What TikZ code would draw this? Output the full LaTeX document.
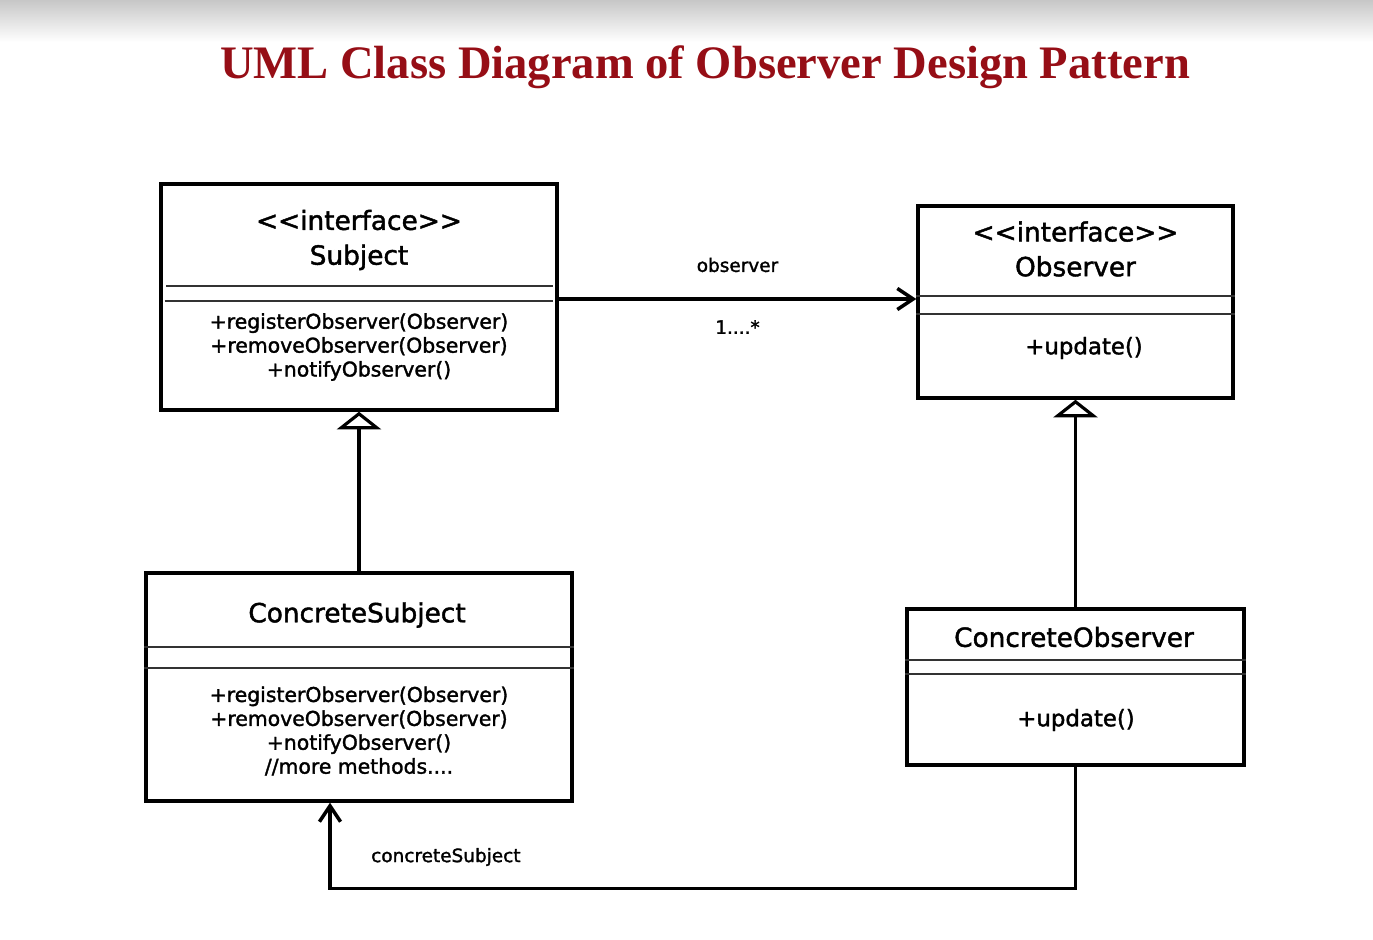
\documentclass[tikz,border=0pt]{standalone}
\usepackage{fontspec}
\setmainfont{DejaVu Sans}[FakeBold=1.6]
\newfontfamily\titlefont{Liberation Serif}
\usetikzlibrary{arrows.meta, positioning, calc}
\definecolor{titlered}{RGB}{150,14,22}

\begin{document}
\begin{tikzpicture}[
  x=0.02cm, y=-0.02cm,
  classbox/.style={rectangle, draw=black, line width=2pt, fill=white},
  headtext/.style={align=center, font=\fontsize{15}{19.8}\selectfont},
  methodtext/.style={align=center, font=\fontsize{11.6}{13.6}\selectfont},
  updatetext/.style={font=\fontsize{13}{15}\selectfont},
  edgelabel/.style={font=\fontsize{10.5}{12}\selectfont},
  sepline/.style={line width=0.6pt, black!80},
  inherit/.style={-{Triangle[open, length=10pt, width=25pt, line width=1.8pt]}, line width=1.9pt},
  assoc/.style={-{Straight Barb[length=9pt, width=12pt, line width=2pt]}, line width=1.9pt}
]

\useasboundingbox (0,0) rectangle (1373,940);
\fill[white] (0,0) rectangle (1373,940);
\shade[top color=black!22, bottom color=white] (0,0) rectangle (1373,42);

\node (title) [font=\titlefont\bfseries\fontsize{26.5}{30}\selectfont, text=titlered] at (705,67)
  {UML Class Diagram of Observer Design Pattern};

% classes
\node (subject) [classbox, minimum width=7.92cm, minimum height=4.52cm] at (359,297) {};
\node (subjecthead) [headtext] at (359,240) {<{}<interface>{}>\\Subject};
\node (subjectops) [methodtext] at (359,347)
  {+registerObserver(Observer)\\+removeObserver(Observer)\\+notifyObserver()};
\draw [sepline, shorten <=4pt, shorten >=3pt] (subject.west |- 0,286) -- (subject.east |- 0,286);
\draw [sepline, shorten <=3pt, shorten >=3pt] (subject.west |- 0,301) -- (subject.east |- 0,301);

\node (observer) [classbox, minimum width=6.3cm, minimum height=3.84cm] at (1075.5,302) {};
\node (observerhead) [headtext] at (1075.5,249) {<{}<interface>{}>\\Observer};
\node (observerops) [updatetext] at (1084,348) {+update()};
\draw [sepline] (observer.west |- 0,296) -- (observer.east |- 0,296);
\draw [sepline] (observer.west |- 0,314) -- (observer.east |- 0,314);

\node (csubject) [classbox, minimum width=8.52cm, minimum height=4.56cm] at (359,687) {};
\node (csubjecthead) [headtext] at (357,615) {ConcreteSubject};
\node (csubjectops) [methodtext] at (359,731)
  {+registerObserver(Observer)\\+removeObserver(Observer)\\+notifyObserver()\\//more methods....};
\draw [sepline] (csubject.west |- 0,647) -- (csubject.east |- 0,647);
\draw [sepline] (csubject.west |- 0,668) -- (csubject.east |- 0,668);

\node (cobserver) [classbox, minimum width=6.74cm, minimum height=3.12cm] at (1075.5,687) {};
\node (cobserverhead) [headtext] at (1074,637) {ConcreteObserver};
\node (cobserverops) [updatetext] at (1076,720) {+update()};
\draw [sepline] (cobserver.west |- 0,660) -- (cobserver.east |- 0,660);
\draw [sepline] (cobserver.west |- 0,674) -- (cobserver.east |- 0,674);

% relations
\draw [assoc] (subject.east |- 0,299) -- (observer.west |- 0,299)
  node[edgelabel, midway, yshift=0.68cm] {observer}
  node[edgelabel, midway, yshift=-0.56cm] {1....*};
\draw [inherit] (csubject) -- (subject);
\draw [inherit] (cobserver) -- (observer);
\draw [assoc] (cobserver.south) -- ++(0,122) -| ($(csubject.south)+(-29,0)$);
\node (cslabel) [edgelabel, anchor=west] at (365,857) {concreteSubject};

\end{tikzpicture}
\end{document}
